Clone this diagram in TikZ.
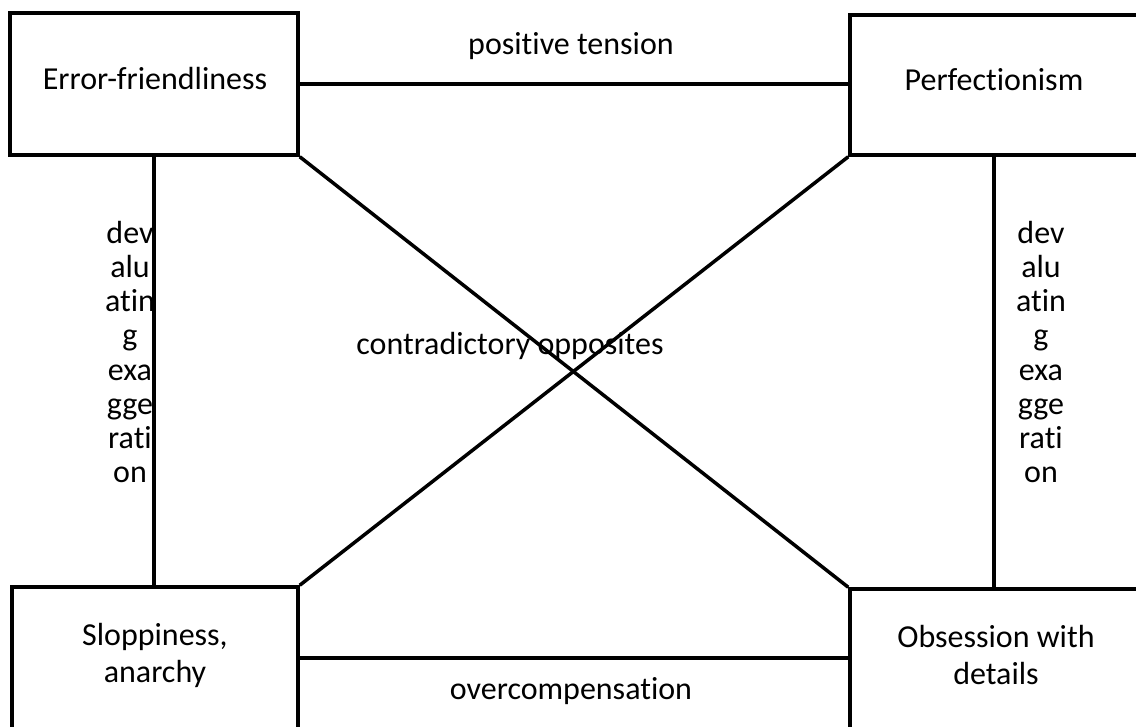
\documentclass[tikz,border=0pt]{standalone}
\usepackage{fontspec}
\setmainfont{Carlito}[Ligatures={NoCommon}]
\begin{document}
\begin{tikzpicture}[x=1pt,y=-1pt,
  every node/.style={font=\fontsize{32}{37}\selectfont},
  quad/.style={draw,line width=3.5pt,minimum width=288pt,minimum height=142pt,inner sep=0pt},
  link/.style={line width=3.5pt},
  lbl/.style={inner sep=0pt,align=center},
  vlbl/.style={inner sep=0pt,align=center,font=\fontsize{32}{34.2}\selectfont}]
\useasboundingbox (0,0) rectangle (1136,727);
\clip (0,0) rectangle (1136,727);
% four quadrant boxes
\node[quad] (ef) at (154,84) {};
\node[quad,minimum height=140pt] (pf) at (994,85) {};
\node[quad,minimum width=286pt] (sl) at (155,658) {};
\node[quad] (ob) at (994,660) {};
% box captions
\node[lbl] (eft) at (155,79) {Error-friendliness};
\node[lbl] (pft) at (994,80) {Perfectionism};
\node[lbl] (slt) at (155,655) {Sloppiness,\\anarchy};
\node[lbl] (obt) at (996,655) {Obsession with\\details};
% connectors
\draw[link] (ef.east) -- (ef.east -| pf.west);
\draw[link] (sl.east) -- (sl.east -| ob.west);
\draw[link] (ef.south) -- (ef.south |- sl.north);
\draw[link] (pf.south) -- (pf.south |- ob.north);
\draw[link] (ef.south east) -- (ob.north west);
\draw[link] (sl.north east) -- (pf.south west);
% labels
\node[lbl] (pt) at (571,46) {positive tension};
\node[lbl] (oc) at (571,691) {overcompensation};
\node[lbl] (co) at (510,346) {contradictory opposites};
\node[vlbl] (dl) at (130,352) {dev\\alu\\atin\\g\\exa\\gge\\rati\\on};
\node[vlbl] (dr) at (1041,352) {dev\\alu\\atin\\g\\exa\\gge\\rati\\on};
\end{tikzpicture}
\end{document}
